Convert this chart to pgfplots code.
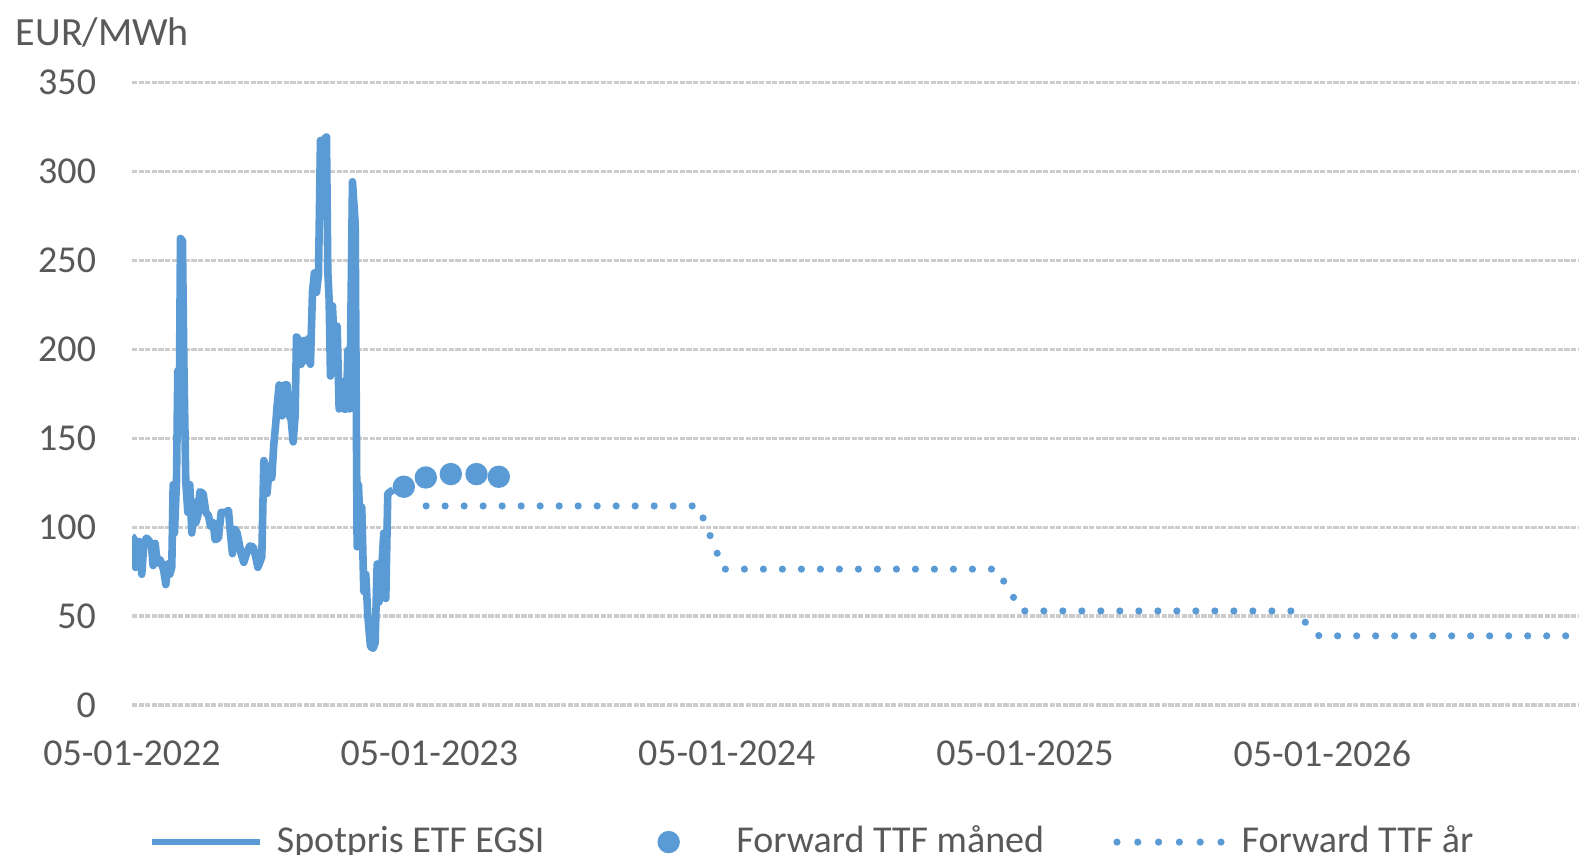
\documentclass[border=0pt]{standalone}
\usepackage{fontspec}
\setmainfont{Carlito}
\usepackage{pgfplots}
\pgfplotsset{compat=1.18}

\definecolor{spotblue}{HTML}{5B9BD5}
\definecolor{labelgray}{HTML}{595959}
\definecolor{gridgray}{HTML}{CDCDCD}

% x = days since 05-01-2022
\begin{document}
\begin{tikzpicture}
\begin{axis}[
    scale only axis,
    width=361.7pt, height=155.7pt,
    xmin=0, xmax=1776,
    ymin=0, ymax=350,
    ytick={0,50,...,350},
    xtick={0,365,730,1096,1461},
    xticklabels={05-01-2022,05-01-2023,05-01-2024,05-01-2025,05-01-2026},
    ymajorgrids,
    grid style={gridgray, line width=0.9pt, dash pattern=on 1.3pt off 0.35pt},
    axis line style={draw=none},
    tick style={draw=none},
    major tick length=0pt,
    /pgf/number format/assume math mode=true,
    ticklabel style={font=\fontsize{9.5}{11}\selectfont, text=labelgray},
    yticklabel style={inner sep=0pt, anchor=east, xshift=-8.8pt},
    xticklabel style={inner sep=0pt, anchor=north, yshift=-8.7pt},
    legend columns=3,
    legend cell align=left,
    legend style={
        at={(0,0)}, anchor=west, xshift=4.25pt, yshift=-34.2pt,
        draw=none, fill=none, inner sep=0pt, outer sep=0pt,
        font=\fontsize{9.5}{11}\selectfont,
        nodes={inner sep=0pt, text=labelgray},
        /tikz/every odd column/.append style={column sep=3.25pt},
        /tikz/every even column/.append style={column sep=17.3pt},
    },
]
\addplot[spotblue, line width=1.9pt, line join=round,
    legend image code/.code={\draw[spotblue, line width=1.7pt] (0pt,0pt) -- (27pt,0pt);}]
coordinates {
(0,94.5) (2.2,94) (4.3,77.5) (6.3,91) (8.8,92) (12,73.6) (14.5,91) (17.8,94)
(21,92.5) (23.9,89) (25.9,78.5) (28.4,91) (30.8,80) (34.1,82) (36.6,79.4)
(39,75.5) (41.5,67.8) (43.9,79.4) (46.4,73.6) (48.8,77.5) (50.5,124) (52.1,96.8)
(54.6,125.8) (56.2,188) (57.8,155) (59.5,262.3) (61.9,261) (63.6,193.6)
(66,125.8) (68.5,108.4) (70.9,124) (73.4,96.8) (75.9,114.2) (78.3,102.6)
(80.8,106.5) (83.2,120) (87.3,119) (90.6,108.4) (93.9,106.5) (96.3,100.7)
(99.6,102.6) (102,93) (106.1,94) (109.4,108.4) (114.3,108.4) (118.4,109.4)
(120.9,96) (123.3,85.2) (126.6,98.8) (129,96.8) (131.5,91) (133.9,85.2)
(137.2,80.3) (140.5,85.2) (144.6,89.5) (148.7,89) (151.9,83.3) (154.4,77.5)
(156.9,80.3) (159.3,83.3) (161.8,137.5) (164.2,133.6) (165.8,119) (168.3,133.6)
(171.6,127.8) (174,146.2) (176.5,158.7) (178.1,168.4) (180.6,180) (183.9,162.6)
(187.1,180) (190.4,180) (192.9,162.6) (195.3,160.7) (197.8,148) (200.2,162.6)
(201.9,207) (205.1,205) (207.6,191.6) (210.9,205) (214.1,193.6) (216.6,206)
(219,191.6) (221.5,232.3) (223.9,243) (226.4,232) (228.9,242) (231.3,317.4)
(233.8,305.8) (236.2,318.4) (238.7,319.3) (240.3,243.9) (241.9,228.4)
(243.6,185) (246,224.5) (249.3,193.6) (251.8,213) (254.2,166.5) (257.5,182)
(259.9,166.5) (263.2,166.5) (264.9,199.4) (267.3,166.5) (270.6,294.2)
(273.9,271) (276.3,89) (277.9,124) (280.4,96.8) (282,111.3) (284.5,64)
(286.9,73.6) (289.4,50.4) (292.7,33) (295.9,32) (298.4,35) (300.9,79.4)
(303.3,58) (306.6,77.5) (309,96.8) (311.5,60) (313.9,119) (317.2,120)
(320.5,121)
};
\addlegendentry{Spotpris ETF EGSI}

\addplot[only marks, mark=*, mark size=2.6pt, spotblue,
    legend image code/.code={\path (0pt,0pt) (27pt,0pt); \fill[spotblue] (13.5pt,0pt) circle (2.6pt);}]
coordinates {
(333.6,122.8) (360.6,128.0) (391.3,129.9) (422.8,129.9) (450.2,128.4)
};
\addlegendentry{Forward TTF måned}

\addplot[spotblue, line width=1.8pt, line cap=round, dash pattern=on 0pt off 4.75pt,
    legend image code/.code={\draw[spotblue, line width=1.8pt, line cap=round, dash pattern=on 0pt off 5.2pt] (0pt,0pt) -- (27pt,0pt);}]
coordinates {
(361,112) (695,112) (726,76.5) (1061,76.5) (1092,53) (1426,53) (1457,39) (1800,39)
};
\addlegendentry{Forward TTF år}
\end{axis}
\node[anchor=base west, inner sep=0pt, text=labelgray, font=\fontsize{10}{12}\selectfont]
    at ([xshift=-29.25pt, yshift=9.1pt]current axis.north west) {EUR/MWh};
\pgfresetboundingbox
\path[use as bounding box] ([xshift=-33pt, yshift=-37.2pt]current axis.south west)
    rectangle ([yshift=20.6pt]current axis.north east);
\end{tikzpicture}
\end{document}
